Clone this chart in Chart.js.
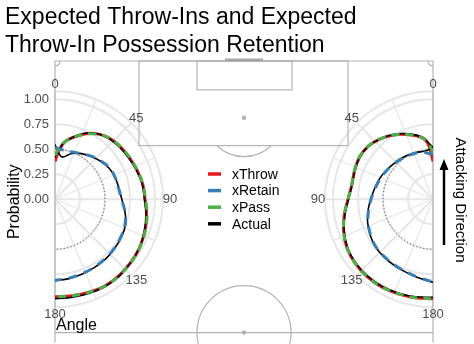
<!DOCTYPE html>
<html>
<head>
<meta charset="utf-8">
<script src="https://cdn.jsdelivr.net/npm/chart.js@4.4.1/dist/chart.umd.min.js"></script>
<style>
  html, body { margin: 0; padding: 0; background: #fff; }
</style>
</head>
<body>
<canvas id="throwInChart" width="474" height="344"></canvas>
<script>
// throw-in angle (0 = straight up the line, 180 = straight back)
const angles = [0, 5, 10, 20, 30, 40, 50, 60, 70, 80, 90, 100, 110, 120, 130, 140, 150, 160, 170, 180];

// left touchline
const leftThrow        = [0.38, 0.50, 0.59, 0.68, 0.765, 0.815, 0.838, 0.852, 0.87, 0.89, 0.90, 0.93, 0.955, 0.975, 0.988, 1.00, 1.005, 0.995, 0.985, 0.98];
const leftPass         = [0.44, 0.52, 0.59, 0.68, 0.76, 0.815, 0.84, 0.855, 0.872, 0.89, 0.905, 0.935, 0.958, 0.977, 0.99, 1.00, 1.005, 0.995, 0.985, 0.98];
const leftActualThrow  = [0.42, 0.51, 0.585, 0.69, 0.77, 0.81, 0.83, 0.845, 0.865, 0.885, 0.895, 0.925, 0.95, 0.975, 0.99, 1.005, 1.01, 1.005, 1.00, 1.00];
const leftRetain       = [0.52, 0.51, 0.50, 0.505, 0.53, 0.565, 0.60, 0.63, 0.64, 0.645, 0.665, 0.71, 0.745, 0.76, 0.772, 0.78, 0.787, 0.795, 0.805, 0.815];
const leftActualRetain = [0.55, 0.46, 0.43, 0.49, 0.53, 0.56, 0.595, 0.625, 0.64, 0.648, 0.668, 0.71, 0.75, 0.765, 0.775, 0.785, 0.79, 0.80, 0.81, 0.82];

// right touchline
const rightThrow        = [0.38, 0.56, 0.63, 0.69, 0.75, 0.80, 0.838, 0.848, 0.835, 0.825, 0.85, 0.90, 0.95, 0.99, 1.01, 1.02, 1.02, 1.012, 1.005, 1.00];
const rightPass         = [0.47, 0.57, 0.63, 0.69, 0.75, 0.80, 0.838, 0.848, 0.837, 0.826, 0.85, 0.90, 0.95, 0.99, 1.01, 1.02, 1.02, 1.012, 1.005, 1.00];
const rightActualThrow  = [0.52, 0.575, 0.635, 0.70, 0.755, 0.80, 0.835, 0.845, 0.832, 0.822, 0.845, 0.895, 0.945, 0.985, 1.005, 1.012, 1.012, 1.005, 0.995, 0.985];
const rightRetain       = [0.46, 0.46, 0.48, 0.495, 0.505, 0.518, 0.53, 0.55, 0.57, 0.59, 0.62, 0.655, 0.69, 0.72, 0.745, 0.755, 0.765, 0.778, 0.80, 0.83];
const rightActualRetain = [0.52, 0.50, 0.49, 0.50, 0.51, 0.522, 0.535, 0.555, 0.575, 0.595, 0.622, 0.66, 0.695, 0.725, 0.748, 0.76, 0.77, 0.782, 0.805, 0.835];

const radialTicks = [0, 0.25, 0.5, 0.75, 1];
const angleTicks = [0, 45, 90, 135, 180];
const seriesLabels = ['xThrow', 'xRetain', 'xPass', 'Actual'];
const refLevel = 0.5;

const colors = { xThrow: '#E41A1C', xRetain: '#377EB8', xPass: '#4DAF4A', Actual: '#000000' };
const family = "'Liberation Sans', Arial, sans-serif";

// pitch laid out in the same units as probability (1 unit = radius 1.0)
const pitchW = 3.78, pitchTop = 1.39, halfway = -1.34;
const box = { x0: 0.84, x1: 2.93, y: 0.54 };
const sixYard = { x0: 1.42, x1: 2.37, y: 1.10 };
const spot = { x: 1.89, y: 0.82 };
const ringR = [0.25, 0.5, 0.75, 1.0, 1.08];

function toXY(vals, side) {
  return vals.map((r, i) => {
    const a = angles[i] * Math.PI / 180;
    const dx = r * Math.sin(a);
    return { x: side === 'left' ? dx : pitchW - dx, y: r * Math.cos(a) };
  });
}

function polarLine(label, vals, side, color, width, dash, order) {
  return {
    label: label,
    data: toXY(vals, side),
    showLine: true,
    borderColor: color,
    backgroundColor: color,
    borderWidth: width,
    borderDash: dash,
    pointRadius: 0,
    tension: 0.4,
    order: order
  };
}

const pitchPlugin = {
  id: 'pitch',
  beforeDatasetsDraw(chart) {
    const { ctx, chartArea } = chart;
    const sx = chart.scales.x, sy = chart.scales.y;
    const px = v => sx.getPixelForValue(v);
    const py = v => sy.getPixelForValue(v);
    const unit = px(1) - px(0);

    ctx.save();
    // polar grids on both touchlines
    [{ cx: 0, dir: 1 }, { cx: pitchW, dir: -1 }].forEach(side => {
      const cx = px(side.cx), cy = py(0);
      ctx.strokeStyle = '#e6e6e6';
      ctx.lineWidth = 2;
      ringR.forEach(r => {
        ctx.beginPath();
        ctx.arc(cx, cy, r * unit, -Math.PI / 2, Math.PI / 2, side.dir < 0);
        ctx.stroke();
      });
      for (let a = 0; a <= 180; a += 22.5) {
        const t = a * Math.PI / 180;
        const R = 1.08 * unit;
        ctx.lineWidth = a % 45 === 0 ? 2 : 1.2;
        ctx.beginPath();
        ctx.moveTo(cx, cy);
        ctx.lineTo(cx + side.dir * R * Math.sin(t), cy - R * Math.cos(t));
        ctx.stroke();
      }
      // 0.5 reference
      ctx.strokeStyle = '#333';
      ctx.lineWidth = 1;
      ctx.setLineDash([1, 2.5]);
      ctx.beginPath();
      ctx.arc(cx, cy, refLevel * unit, -Math.PI / 2, Math.PI / 2, side.dir < 0);
      ctx.stroke();
      ctx.setLineDash([]);
    });

    // pitch markings
    ctx.strokeStyle = '#b3b3b3';
    ctx.fillStyle = '#b3b3b3';
    ctx.lineWidth = 1.2;
    ctx.beginPath();
    ctx.moveTo(px(0), chartArea.bottom);
    ctx.lineTo(px(0), py(pitchTop));
    ctx.lineTo(px(pitchW), py(pitchTop));
    ctx.lineTo(px(pitchW), chartArea.bottom);
    ctx.moveTo(px(0), py(halfway));
    ctx.lineTo(px(pitchW), py(halfway));
    ctx.stroke();
    ctx.strokeRect(px(box.x0), py(pitchTop), px(box.x1) - px(box.x0), py(box.y) - py(pitchTop));
    ctx.strokeRect(px(sixYard.x0), py(pitchTop), px(sixYard.x1) - px(sixYard.x0), py(sixYard.y) - py(pitchTop));
    const arcR = 0.39 * unit;
    const cut = Math.asin((py(box.y) - py(spot.y)) / arcR);
    ctx.beginPath();
    ctx.arc(px(spot.x), py(spot.y), arcR, cut, Math.PI - cut);
    ctx.stroke();
    ctx.beginPath();
    ctx.arc(px(spot.x), py(halfway), 0.47 * unit, 0, Math.PI * 2);
    ctx.stroke();
    ctx.beginPath();
    ctx.arc(px(0), py(pitchTop), 0.05 * unit, 0, Math.PI / 2);
    ctx.stroke();
    ctx.beginPath();
    ctx.arc(px(pitchW), py(pitchTop), 0.05 * unit, Math.PI / 2, Math.PI);
    ctx.stroke();
    [[spot.x, spot.y], [spot.x, halfway]].forEach(p => {
      ctx.beginPath();
      ctx.arc(px(p[0]), py(p[1]), 2.2, 0, Math.PI * 2);
      ctx.fill();
    });
    // goal
    ctx.strokeStyle = '#a6a6a6';
    ctx.lineWidth = 3;
    ctx.beginPath();
    ctx.moveTo(px(1.70), py(pitchTop) - 1);
    ctx.lineTo(px(2.08), py(pitchTop) - 1);
    ctx.stroke();
    ctx.restore();
  },
  afterDraw(chart) {
    const { ctx } = chart;
    const sx = chart.scales.x, sy = chart.scales.y;
    const px = v => sx.getPixelForValue(v);
    const py = v => sy.getPixelForValue(v);
    const unit = px(1) - px(0);

    ctx.save();
    // angle labels
    ctx.font = '13px ' + family;
    ctx.fillStyle = '#4d4d4d';
    ctx.textAlign = 'center';
    ctx.textBaseline = 'middle';
    [{ cx: 0, dir: 1 }, { cx: pitchW, dir: -1 }].forEach(side => {
      angleTicks.forEach(a => {
        const t = a * Math.PI / 180;
        const R = 1.15 * unit;
        ctx.fillText(String(a), px(side.cx) + side.dir * R * Math.sin(t), py(0) - R * Math.cos(t));
      });
    });

    // legend in the middle of the pitch
    ctx.font = '14px ' + family;
    ctx.fillStyle = '#000';
    ctx.textAlign = 'left';
    seriesLabels.forEach((lab, i) => {
      const y = 174 + i * 16.6;
      ctx.strokeStyle = colors[lab];
      ctx.lineWidth = 3.5;
      ctx.beginPath();
      ctx.moveTo(208, y);
      ctx.lineTo(221, y);
      ctx.stroke();
      ctx.fillText(lab, 232, y + 1);
    });

    // axis name for the angle
    ctx.font = '16px ' + family;
    ctx.textBaseline = 'alphabetic';
    ctx.fillText('Angle', 56, 330);

    // attacking direction arrow
    ctx.strokeStyle = '#000';
    ctx.fillStyle = '#000';
    ctx.lineWidth = 2.5;
    ctx.beginPath();
    ctx.moveTo(444, 245);
    ctx.lineTo(444, 168);
    ctx.stroke();
    ctx.beginPath();
    ctx.moveTo(444, 159);
    ctx.lineTo(448.5, 170);
    ctx.lineTo(439.5, 170);
    ctx.closePath();
    ctx.fill();
    ctx.translate(460, 200);
    ctx.rotate(Math.PI / 2);
    ctx.font = '15px ' + family;
    ctx.textAlign = 'center';
    ctx.textBaseline = 'middle';
    ctx.fillText('Attacking Direction', 0, 0);
    ctx.restore();
  }
};

const chart = new Chart(document.getElementById('throwInChart'), {
  type: 'scatter',
  data: {
    datasets: [
      polarLine('xThrow', leftThrow, 'left', colors.xThrow, 3, [], 4),
      polarLine('Actual', leftActualThrow, 'left', colors.Actual, 1.6, [], 3),
      polarLine('Actual', leftActualRetain, 'left', colors.Actual, 1.6, [], 3),
      polarLine('xRetain', leftRetain, 'left', colors.xRetain, 3, [9, 7], 2),
      polarLine('xPass', leftPass, 'left', colors.xPass, 3, [8, 6], 1),
      polarLine('xThrow', rightThrow, 'right', colors.xThrow, 3, [], 4),
      polarLine('Actual', rightActualThrow, 'right', colors.Actual, 1.6, [], 3),
      polarLine('Actual', rightActualRetain, 'right', colors.Actual, 1.6, [], 3),
      polarLine('xRetain', rightRetain, 'right', colors.xRetain, 3, [9, 7], 2),
      polarLine('xPass', rightPass, 'right', colors.xPass, 3, [8, 6], 1)
    ]
  },
  options: {
    responsive: false,
    animation: false,
    devicePixelRatio: 1,
    layout: { padding: { left: 5, right: 41, top: 0, bottom: 0 } },
    plugins: {
      legend: { display: false },
      tooltip: { enabled: false },
      title: {
        display: true,
        text: ['Expected Throw-Ins and Expected', 'Throw-In Possession Retention'],
        align: 'start',
        color: '#000',
        font: { family: family, size: 23, weight: 'normal', lineHeight: 28 / 23 },
        padding: { top: 4, bottom: 1 }
      }
    },
    scales: {
      x: { type: 'linear', min: 0, max: pitchW, display: false },
      y: {
        type: 'linear',
        min: -1.44,
        max: pitchTop,
        afterBuildTicks: s => { s.ticks = radialTicks.map(v => ({ value: v })); },
        afterFit: s => { s.width = 50; s.paddingTop = 0; s.paddingBottom = 0; },
        ticks: {
          callback: v => Number(v).toFixed(2),
          color: '#4d4d4d',
          font: { family: family, size: 13 },
          padding: 6
        },
        grid: { display: false, drawTicks: false },
        border: { display: false },
        title: {
          display: true,
          text: 'Probability',
          color: '#000',
          font: { family: family, size: 16 },
          padding: 0
        }
      }
    }
  },
  plugins: [pitchPlugin]
});

// keep the polar plots round: same pixels per unit on both axes
const ca = chart.chartArea;
const pxPerUnit = (ca.right - ca.left) / pitchW;
chart.options.scales.y.min = pitchTop - (ca.bottom - ca.top) / pxPerUnit;
chart.update();
</script>
</body>
</html>
